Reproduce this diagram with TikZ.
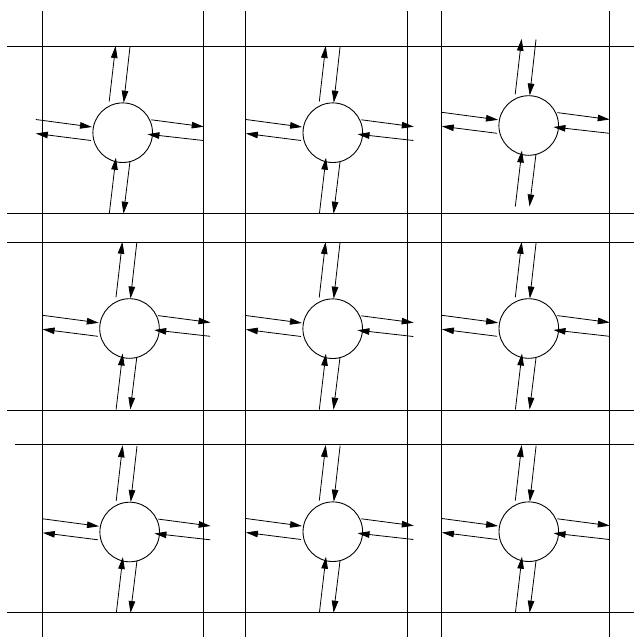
\documentclass[tikz,border=0pt]{standalone}
\usetikzlibrary{arrows.meta}
\tikzset{
  gridline/.style={line width=1.5pt, black},
  hub/.style={circle, draw, line width=0.9pt, minimum size=59.6pt, inner sep=0pt, outer sep=0pt},
  flow/.style={line width=0.8pt, -{Triangle[length=12pt,width=6.5pt]}},
}
\newcommand\roundabout[3]{%
  \begin{scope}[shift={(#2,#3)}]
    \node[hub] (#1) at (0,0) {};
    % top pair
    \coordinate (#1-tua) at (-13.5,-31.2);
    \coordinate (#1-tub) at (-7.1,-86.7);
    \coordinate (#1-tda) at (7.3,-86);
    \coordinate (#1-tdb) at (1,-30);
    % left pair
    \coordinate (#1-lia) at (-86.9,-13.2);
    \coordinate (#1-lib) at (-30.7,-5.7);
    \coordinate (#1-loa) at (-31.7,7.8);
    \coordinate (#1-lob) at (-86.9,0.8);
    % right pair
    \coordinate (#1-roa) at (28.6,-12.9);
    \coordinate (#1-rob) at (81,-6);
    \coordinate (#1-ria) at (80.6,7.8);
    \coordinate (#1-rib) at (24.7,1.5);
    % bottom pair
    \coordinate (#1-bua) at (-13.4,81);
    \coordinate (#1-bub) at (-6.8,25);
    \coordinate (#1-bda) at (7.25,29);
    \coordinate (#1-bdb) at (0.8,81);
    \draw[flow] (#1-tua) -- (#1-tub);
    \draw[flow] (#1-tda) -- (#1-tdb);
    \draw[flow] (#1-lia) -- (#1-lib);
    \draw[flow] (#1-loa) -- (#1-lob);
    \draw[flow] (#1-roa) -- (#1-rob);
    \draw[flow] (#1-ria) -- (#1-rib);
    \draw[flow] (#1-bua) -- (#1-bub);
    \draw[flow] (#1-bda) -- (#1-bdb);
  \end{scope}}
\begin{document}
\begin{tikzpicture}[x=1pt,y=-1pt]
  \useasboundingbox (0,0) rectangle (634,637);
  % vertical grid lines
  \foreach \gx in {42.5,203.5,245.5,407.5,441.5,609.5}
    \draw[gridline] (\gx,11) -- (\gx,637);
  % horizontal grid lines
  \foreach \gy in {46.5,213.5,242.5,410.5,612.5}
    \draw[gridline] (7.3,\gy) -- (634,\gy);
  \draw[gridline] (15,444.5) -- (634,444.5);
  % roundabouts
  \roundabout{c11}{122.7}{132.7}
  \roundabout{c12}{332.8}{132.7}
  \roundabout{c13}{528.7}{125.5}
  \roundabout{c21}{129.5}{328.5}
  \roundabout{c22}{332.7}{328.7}
  \roundabout{c23}{528.8}{328.5}
  \roundabout{c31}{129.7}{532}
  \roundabout{c32}{332.8}{531.7}
  \roundabout{c33}{528.8}{531.7}
\end{tikzpicture}
\end{document}
